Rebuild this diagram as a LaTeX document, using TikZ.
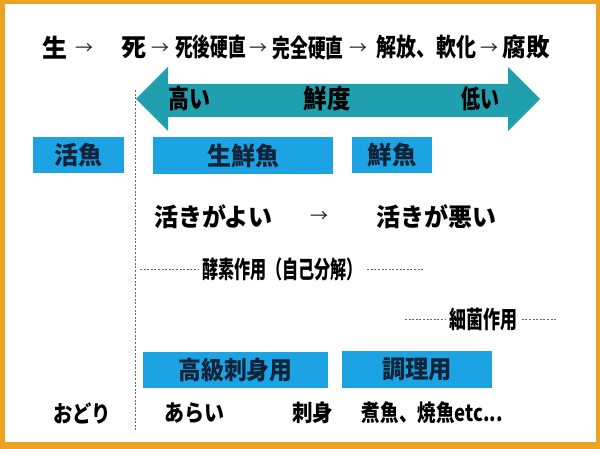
\documentclass[tikz,border=0pt]{standalone}
\usepackage{fontspec}
\usepackage{graphicx}
\newfontfamily\jp{Noto Sans CJK JP}
\definecolor{frameorange}{RGB}{236,163,35}
\definecolor{arrowteal}{RGB}{32,160,175}
\definecolor{boxblue}{RGB}{27,163,228}
\definecolor{boxtext}{RGB}{18,36,58}
\newcommand\fw[2]{\resizebox{#1pt}{\height}{#2}}
\begin{document}
\begin{tikzpicture}[x=1pt,y=-1pt,
  txt/.style={inner sep=0pt, text=black, font={\jp\bfseries\fontsize{#1}{#1}\selectfont}},
  txt/.default=25,
  arr/.style={inner sep=0pt, text=black!85, font={\jp\fontsize{18}{18}\selectfont}},
  bbox/.style={fill=boxblue, inner sep=0pt, minimum height=36pt, text=boxtext,
     font={\jp\bfseries\fontsize{25}{25}\selectfont}},
  dashline/.style={draw=black!60, line width=0.6pt, dash pattern=on 2pt off 1.6pt},
]
% frame
\fill[frameorange] (0,0) rectangle (600,449);
\fill[white] (4.5,4.5) rectangle (595.5,442);
\useasboundingbox (0,0) rectangle (600,449);

% top row
\node[txt] (s1) at (55,47.5) {生};
\node[arr] (a1) at (84,49) {\fw{18}{→}};
\node[txt] (s2) at (134,47.5) {死};
\node[arr] (a2) at (160,49) {\fw{18}{→}};
\node[txt] (s3) at (210.5,47.5) {\fw{71}{死後硬直}};
\node[arr] (a3) at (258.5,49) {\fw{18}{→}};
\node[txt] (s4) at (308,47.5) {\fw{71}{完全硬直}};
\node[arr] (a4) at (358.5,49) {\fw{18}{→}};
\node[txt] (s5) at (426,47.5) {\fw{100}{解放、軟化}};
\node[arr] (a5) at (489.5,49) {\fw{18}{→}};
\node[txt] (s6) at (526,47.5) {\fw{47}{腐敗}};

% dashed vertical divider
\draw[dashline] (135,90) -- (135,432);

% freshness double arrow
\fill[arrowteal] (136,99) -- (168,67) -- (168,84) -- (508,84) -- (508,67) -- (540,99)
  -- (508,131) -- (508,117) -- (168,117) -- (168,131) -- cycle;
\node[txt=26] (hi) at (189,99) {\fw{42}{高い}};
\node[txt=26] (fr) at (327,99) {\fw{47}{鮮度}};
\node[txt=26] (lo) at (480,99) {\fw{38}{低い}};

% category boxes
\node[bbox, minimum width=91pt] (b1) at (78.5,155) {\fw{48}{活魚}};
\node[bbox, minimum width=180pt, minimum height=37pt] (b2) at (243,155.5) {\fw{72}{生鮮魚}};
\node[bbox, minimum width=80pt] (b3) at (392,155) {\fw{49}{鮮魚}};

% liveliness
\node[txt=25] (m1) at (213.5,217) {\fw{119}{活きがよい}};
\node[arr] (ma) at (319,217) {\fw{18}{→}};
\node[txt=25] (m2) at (436.5,217) {\fw{120}{活きが悪い}};

% enzyme action
\node[txt=24] (enz) at (282.5,269) {\fw{161}{酵素作用（自己分解）}};
\coordinate (e1) at (140,269);
\coordinate (e2) at (423,269);
\draw[dashline] (e1) -- ([xshift=-4pt]enz.west);
\draw[dashline] ([xshift=4pt]enz.east) -- (e2);

% bacterial action
\node[txt=24] (bac) at (483.5,319) {\fw{68}{細菌作用}};
\coordinate (f1) at (405,319);
\coordinate (f2) at (557,319);
\draw[dashline] (f1) -- ([xshift=-4pt]bac.west);
\draw[dashline] ([xshift=4pt]bac.east) -- (f2);

% usage boxes
\node[bbox, minimum width=185pt] (u1) at (235.5,370) {\fw{114}{高級刺身用}};
\node[bbox, minimum width=150pt, minimum height=37pt] (u2) at (417,369.5) {\fw{70}{調理用}};

% bottom row
\node[txt=23] (w1) at (82,413) {\fw{58}{おどり}};
\node[txt=23] (w2) at (194,413) {\fw{60}{あらい}};
\node[txt=23] (w3) at (312.5,413) {\fw{41}{刺身}};
\node[txt=23] (w4) at (432.5,413) {\fw{141}{煮魚、焼魚etc...}};
\end{tikzpicture}
\end{document}
